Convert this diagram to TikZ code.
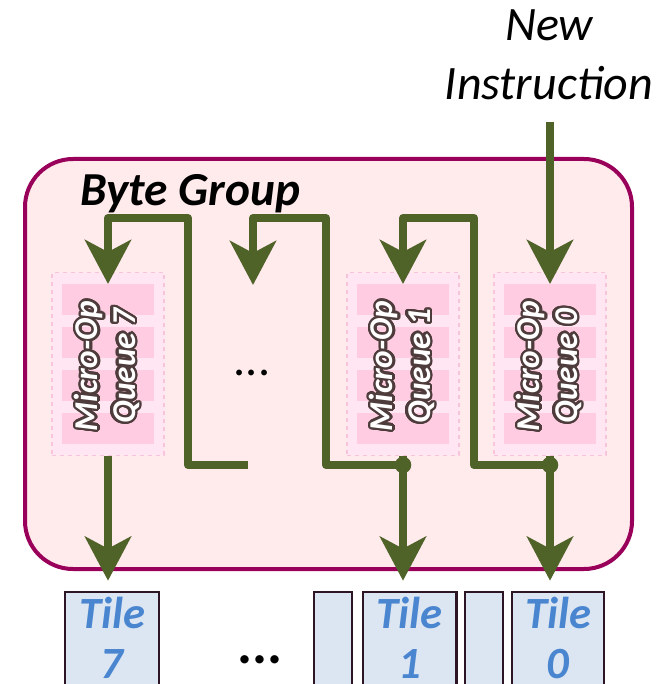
\documentclass[tikz,border=0pt]{standalone}
\usepackage{fontspec}
\setmainfont{Carlito}
\usepackage[copies]{contour}
\contourlength{1.8pt}
\contournumber{24}
\usetikzlibrary{arrows.meta,positioning}

\definecolor{bytefill}{HTML}{FFEAEC}
\definecolor{byteedge}{HTML}{99005A}
\definecolor{wiregreen}{HTML}{4F6228}
\definecolor{qfill}{HTML}{FFE6F2}
\definecolor{qedge}{HTML}{F8C4DC}
\definecolor{qbar}{HTML}{FFCCE2}
\definecolor{tilefill}{HTML}{DCE6F2}
\definecolor{tileedge}{HTML}{2E1525}
\definecolor{tileink}{HTML}{4A86D0}
\definecolor{glow}{HTML}{4E3C3C}

\tikzset{
  wire/.style={draw=wiregreen, line width=6pt, line join=round},
  feed/.style={wire, -{Stealth[length=33pt,width=34.5pt,inset=9pt]}},
  joint/.style={fill=wiregreen},
  bytegroup/.style={draw=byteedge, fill=bytefill, line width=3pt, rounded corners=36pt},
  queuebox/.style={draw=qedge, fill=qfill, dashed, line width=1.2pt,
    minimum width=84pt, minimum height=137pt, inner sep=0pt},
  queuetext/.style={rotate=90, align=center, text=white,
    font=\fontsize{25}{28}\selectfont\bfseries\itshape},
  tilebox/.style={draw=tileedge, fill=tilefill, line width=2pt,
    minimum height=96pt, inner sep=0pt},
  tiletext/.style={align=center, text=tileink,
    font=\fontsize{33.5}{37.5}\selectfont\bfseries\itshape}
}

\begin{document}
\begin{tikzpicture}[x=0.75pt,y=-0.75pt]
\useasboundingbox (0,0) rectangle (668,684);

% Byte group frame
\draw[bytegroup] (25,159) rectangle (632,569);
\node[anchor=base west, inner sep=0pt, font=\fontsize{35.5}{40}\selectfont\bfseries\itshape]
  (bytelabel) at (80,205) {Byte Group};

% New instruction label
\node[align=center, inner sep=0pt, font=\fontsize{36}{44.25}\selectfont\itshape]
  (newlabel) at (549,55) {New\\Instruction};

% Micro-op queues
\foreach \q/\x/\n in {qseven/108/7, qone/403/1, qzero/550/0} {
  \node[queuebox] (\q) at (\x,364) {};
  \foreach \dy in {-64.5,-21.5,21.5,64.5}
    \fill[qbar] ({\x-46},{364+\dy-15.5}) rectangle ({\x+46},{364+\dy+15.5});
  \node[queuetext] (\q text) at (\x,366)
    {\contour{glow}{Micro-Op}\\\contour{glow}{Queue \n}};
}
\node[font=\fontsize{36}{40}\selectfont] (middots) at (252,373) {...};

% Tiles
\node[tilebox, minimum width=70.5pt] (tseven) at (112,656) {};
\node[tilebox, minimum width=28.5pt] (tblanka) at (333,656) {};
\node[tilebox, minimum width=70pt] (tone) at (409.5,656) {};
\node[tilebox, minimum width=28.5pt] (tblankb) at (484,656) {};
\node[tilebox, minimum width=69pt] (tzero) at (558,656) {};
\node[tiletext] (tsevenlabel) at (112,638) {Tile\\7};
\node[tiletext] (tonelabel) at (409.5,638) {Tile\\1};
\node[tiletext] (tzerolabel) at (558,638) {Tile\\0};
\node[font=\fontsize{42}{46}\selectfont\bfseries] (tiledots) at (260,660) {...};

% Wire points
\coordinate (newin) at (550,122);
\coordinate (inzero) at (550,284);
\coordinate (inone) at (403,284);
\coordinate (indots) at (253,285);
\coordinate (inseven) at (108,284);
\coordinate (jzero) at (550,465);
\coordinate (jone) at (403,465);
\coordinate (dotsout) at (248,465);
\coordinate (rzero) at (474,218);
\coordinate (rone) at (326,218);
\coordinate (rdots) at (188,218);

% Instruction passing from queue to queue
\draw[feed] (newin) -- (inzero);
\draw[feed] (jzero) -| (rzero) -| (inone);
\draw[feed] (jone) -| (rone) -| (indots);
\draw[feed] (dotsout) -| (rdots) -| (inseven);

% Queue outputs to tiles
\draw[feed, shorten >=7.5pt] (qzero.south) -- (qzero.south |- tzero.north);
\draw[feed, shorten >=7.5pt] (qone.south) -- (qone.south |- tone.north);
\draw[feed, shorten >=7.5pt] (qseven.south) -- (qseven.south |- tseven.north);
\fill[joint] (jzero) circle (6.2pt);
\fill[joint] (jone) circle (6.2pt);

\end{tikzpicture}
\end{document}
